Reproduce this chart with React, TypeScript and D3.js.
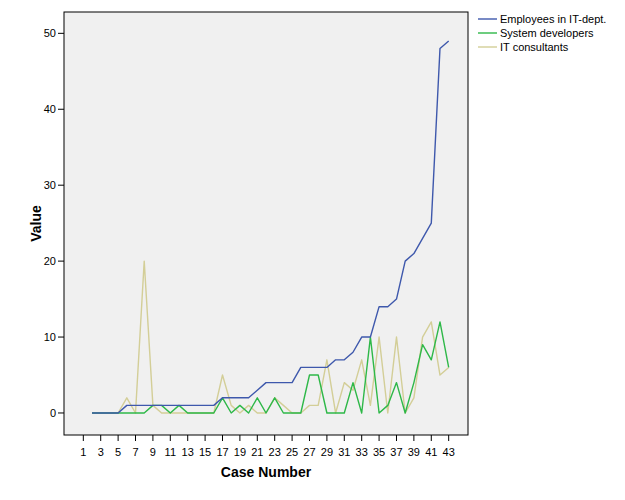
import React from "react";
import * as d3 from "d3";

const cases = [2,3,4,5,6,7,8,9,10,11,12,13,14,15,16,17,18,19,20,21,22,23,24,25,26,27,28,29,30,31,32,33,34,35,36,37,38,39,40,41,42,43];
const employees = [0,0,0,0,1,1,1,1,1,1,1,1,1,1,1,2,2,2,2,3,4,4,4,4,6,6,6,6,7,7,8,10,10,14,14,15,20,21,23,25,48,49];
const developers = [0,0,0,0,0,0,0,1,1,0,1,0,0,0,0,2,0,1,0,2,0,2,0,0,0,5,5,0,0,0,4,0,10,0,1,4,0,4,9,7,12,6];
const consultants = [0,0,0,0,2,0,20,1,0,0,0,0,0,0,0,5,1,0,1,0,0,2,1,0,0,1,1,7,0,4,3,7,1,10,0,10,0,2,10,12,5,6];
const seriesNames = ["Employees in IT-dept.", "System developers", "IT consultants"];
const seriesColors = ["#3E58AC", "#2EB848", "#D3CE97"];
const xTicks = [1,3,5,7,9,11,13,15,17,19,21,23,25,27,29,31,33,35,37,39,41,43];
const yTicks = [0,10,20,30,40,50];

const W = 625, H = 500;
const L = 64, R = 468, T = 12, B = 435;
const font = "Liberation Sans, Arial, sans-serif";

export default function App() {
  const x = d3.scaleLinear().domain([-1.22, 45.22]).range([L, R]);
  const y = d3.scaleLinear().domain([-2.9, 52.81]).range([B, T]);
  const allSeries = [employees, developers, consultants];
  const line = d3.line<[number, number]>().x(d => x(d[0])).y(d => y(d[1]));
  const drawOrder = [2, 1, 0];
  return (
    <svg width={W} height={H} style={{ position: "absolute", left: 0, top: 0, background: "#fff" }} fontFamily={font}>
      <rect x={L} y={T} width={R - L} height={B - T} fill="#F0F0F0" />
      {drawOrder.map(i => (
        <path key={i} d={line(cases.map((c, k) => [c, allSeries[i][k]]) as [number, number][]) || ""}
          fill="none" stroke={seriesColors[i]} strokeWidth={1.4} strokeLinejoin="round" />
      ))}
      <rect x={L} y={T} width={R - L} height={B - T} fill="none" stroke="#000" strokeWidth={1} />
      {yTicks.map(t => (
        <g key={t}>
          <line x1={L - 6} x2={L} y1={y(t)} y2={y(t)} stroke="#000" />
          <text x={L - 8} y={y(t)} dy="0.35em" textAnchor="end" fontSize={11} fill="#000">{t}</text>
        </g>
      ))}
      {xTicks.map(t => (
        <g key={t}>
          <line x1={x(t)} x2={x(t)} y1={B} y2={B + 6} stroke="#000" />
          <text x={x(t)} y={B + 21} textAnchor="middle" fontSize={11} fill="#000">{t}</text>
        </g>
      ))}
      <text x={(L + R) / 2} y={477} textAnchor="middle" fontSize={14} fontWeight="bold">Case Number</text>
      <text transform={`translate(41,${(T + B) / 2}) rotate(-90)`} textAnchor="middle" fontSize={14} fontWeight="bold">Value</text>
      {seriesNames.map((n, i) => (
        <g key={n}>
          <line x1={478} x2={497} y1={19 + i * 14} y2={19 + i * 14} stroke={seriesColors[i]} strokeWidth={1.4} />
          <text x={500} y={19 + i * 14} dy="0.35em" fontSize={11} fill="#000">{n}</text>
        </g>
      ))}
    </svg>
  );
}
